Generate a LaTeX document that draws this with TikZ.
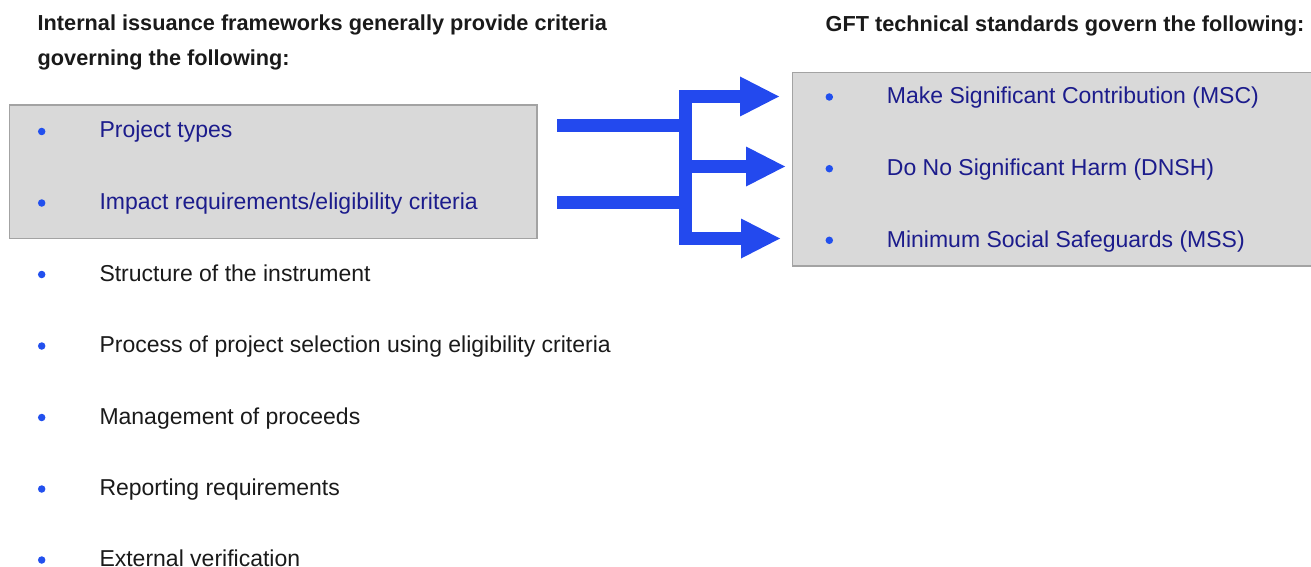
\documentclass[tikz,border=0pt]{standalone}
\usepackage{fontspec}
\setmainfont{Liberation Sans}
\usetikzlibrary{arrows.meta}
\definecolor{boxfill}{HTML}{D9D9D9}
\definecolor{boxline}{HTML}{A3A3A3}
\definecolor{navy}{HTML}{1C1C8C}
\definecolor{flowblue}{HTML}{2349EE}
\definecolor{dotblue}{HTML}{2250EE}
\definecolor{ink}{HTML}{1A1A1A}
\begin{document}
\begin{tikzpicture}[x=1pt,y=-1pt,
  panel/.style={draw=boxline, line width=1.5pt, fill=boxfill, inner sep=0pt, rectangle},
  head/.style={anchor=base west, inner sep=0pt, font=\fontsize{21.7}{26}\selectfont\bfseries, text=ink},
  item/.style={anchor=base west, inner sep=0pt, font=\fontsize{23}{27}\selectfont, text=ink},
  boxitem/.style={item, text=navy},
  dot/.style={circle, fill=dotblue, inner sep=0pt, minimum size=7.5pt},
  flow/.style={draw=flowblue, line width=13pt},
  tip/.style={-{Triangle[length=39pt,width=40pt,line width=0pt]}},
  twotip/.style={{Triangle[length=39pt,width=40pt,line width=0pt]}-{Triangle[length=39pt,width=40pt,line width=0pt]}}
]
\useasboundingbox (0,0) rectangle (1311,567);

% panels
\node[panel, minimum width=527.7pt, minimum height=133.5pt] (lbox) at (273.15,171.75) {};
\node[panel, minimum width=522pt, minimum height=193.3pt] (rbox) at (1053.7,169.35) {};

% headings
\node[head] (lh1) at (37.5,31) {Internal issuance frameworks generally provide criteria};
\node[head] (lh2) at (37.5,66) {governing the following:};
\node[head] (rh) at (825.5,31.5) {GFT technical standards govern the following:};

% left list
\node[boxitem] (l1) at (99.3,138) {Project types};
\node[boxitem] (l2) at (99.3,209.5) {Impact requirements/eligibility criteria};
\node[item] (l3) at (99.3,281) {Structure of the instrument};
\node[item] (l4) at (99.3,352.5) {Process of project selection using eligibility criteria};
\node[item] (l5) at (99.3,424) {Management of proceeds};
\node[item] (l6) at (99.3,495.5) {Reporting requirements};
\node[item] (l7) at (99.3,566) {External verification};
\foreach \i/\y in {1/138,2/209.5,3/281,4/352.5,5/424,6/495.5,7/566.5}
  \node[dot] (ld\i) at (41.7,\y-6.5) {};

% right list
\node[boxitem] (r1) at (886.7,104) {Make Significant Contribution (MSC)};
\node[boxitem] (r2) at (886.7,175.7) {Do No Significant Harm (DNSH)};
\node[boxitem] (r3) at (886.7,247.3) {Minimum Social Safeguards (MSS)};
\foreach \i/\y in {1/104,2/175.7,3/247.3}
  \node[dot] (rd\i) at (829.3,\y-7) {};

% connector geometry
\coordinate (s1) at (557,125.5);
\coordinate (s2) at (557,202.5);
\coordinate (jt) at (685,96.5);
\coordinate (jm) at (685,166.5);
\coordinate (jb) at (685,238.5);
\coordinate (t1) at (779,96.5);
\coordinate (t2) at (785,166.5);
\coordinate (t3) at (780,238.5);

\draw[flow] (s1) -- (s1 -| jt);
\draw[flow] (s2) -- (s2 -| jt);
\draw[flow, twotip] (t1) -- (jt) -- (jb) -- (t3);
\draw[flow, tip] (jm) -- (t2);
\end{tikzpicture}
\end{document}
